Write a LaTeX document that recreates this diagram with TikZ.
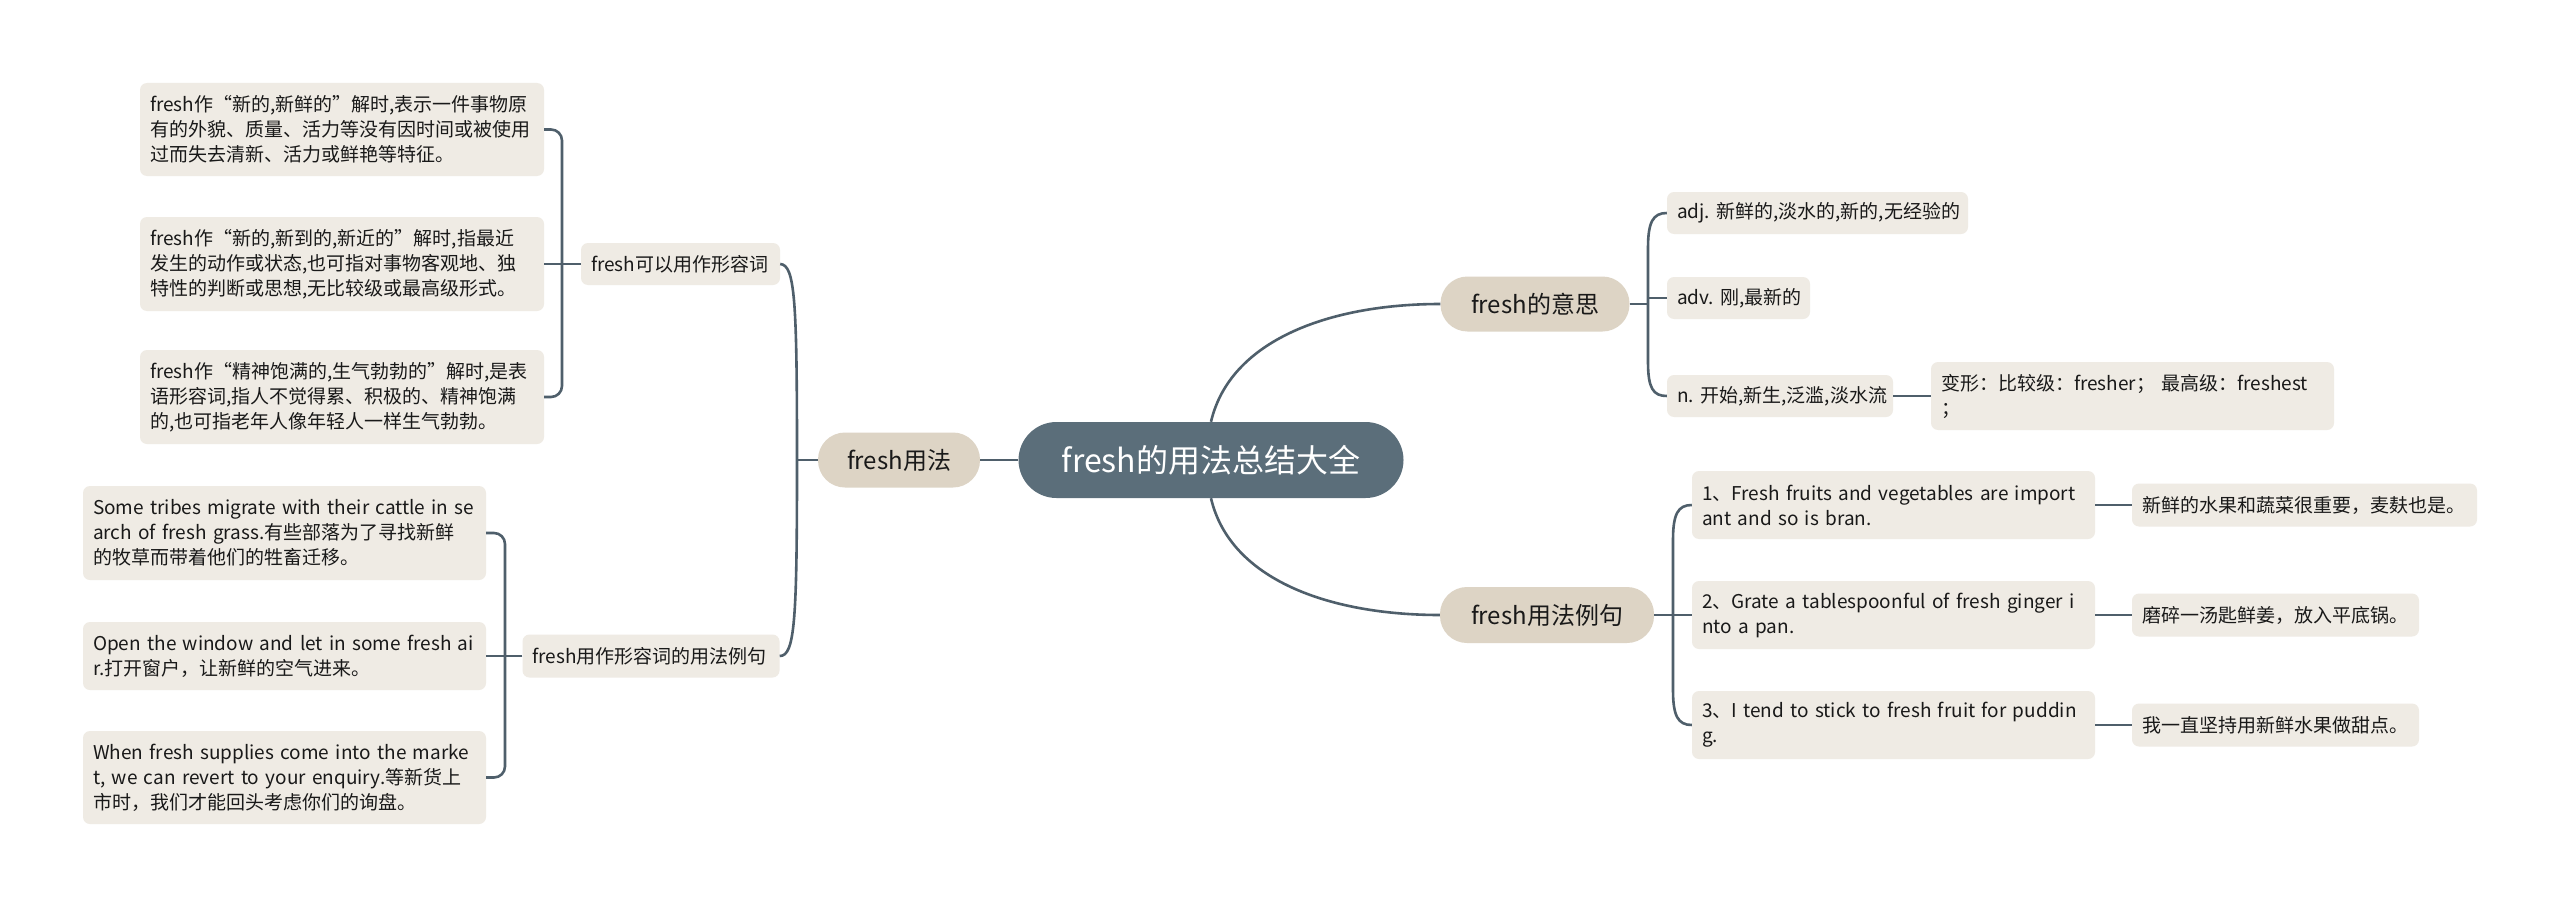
\documentclass[tikz,border=0pt]{standalone}
\usepackage{fontspec}
\setmainfont{Noto Sans CJK SC}
\frenchspacing
\definecolor{rootfill}{RGB}{91,110,122}
\definecolor{branchfill}{RGB}{221,212,197}
\definecolor{leaffill}{RGB}{239,235,228}
\definecolor{linec}{RGB}{79,95,107}
\definecolor{textc}{RGB}{25,25,25}
\tikzset{
  conn/.style={draw=linec, line width=2.6pt},
  leafbox/.style={fill=leaffill, rounded corners=7pt, inner xsep=10pt, inner ysep=0pt, align=left, text=textc, font=\fontsize{19}{25}\selectfont},
  branchbox/.style={fill=branchfill, rounded corners=27pt, inner sep=0pt, text=textc, font=\fontsize{24}{28}\selectfont},
  rootbox/.style={fill=rootfill, rounded corners=38pt, inner sep=0pt, text=white, font=\fontsize{32}{36}\selectfont}
}
\begin{document}
\begin{tikzpicture}[x=1pt,y=-1pt]
\useasboundingbox (0,0) rectangle (2560,907);
\fill[white] (0,0) rectangle (2560,907);

% root and branches
\node[rootbox, minimum width=385pt, minimum height=76pt] (C) at (1211,460) {fresh的用法总结大全};
\node[branchbox, minimum width=162pt, minimum height=55pt] (B1) at (899,460) {fresh用法};
\node[branchbox, minimum width=189pt, minimum height=55pt] (B2) at (1535,304) {fresh的意思};
\node[branchbox, minimum width=214pt, minimum height=56pt] (B3) at (1547,615) {fresh用法例句};

% left sub-branches
\node[leafbox, text width=179pt, minimum height=42pt] (A1) at (680.5,264) {\mbox{fresh可以用作形容词}};
\node[leafbox, text width=237pt, minimum height=43pt] (A2) at (651,656) {\mbox{fresh用作形容词的用法例句}};

% left leaves group 1
\node[leafbox, text width=384pt, minimum height=93pt] (L1) at (342,129.5) {fresh作“新的,新鲜的”解时,表示一件事物原\\有的外貌、质量、活力等没有因时间或被使用\\过而失去清新、活力或鲜艳等特征。};
\node[leafbox, text width=384pt, minimum height=94pt] (L2) at (342,264) {fresh作“新的,新到的,新近的”解时,指最近\\发生的动作或状态,也可指对事物客观地、独\\特性的判断或思想,无比较级或最高级形式。};
\node[leafbox, text width=384pt, minimum height=94pt] (L3) at (342,397) {fresh作“精神饱满的,生气勃勃的”解时,是表\\语形容词,指人不觉得累、积极的、精神饱满\\的,也可指老年人像年轻人一样生气勃勃。};

% left leaves group 2
\node[leafbox, text width=383pt, minimum height=94pt] (E1) at (284.5,533) {\mbox{Some tribes migrate with their cattle in se}\\\mbox{arch of fresh grass.有些部落为了寻找新鲜}\\的牧草而带着他们的牲畜迁移。};
\node[leafbox, text width=383pt, minimum height=68pt] (E2) at (284.5,656) {\mbox{Open the window and let in some fresh ai}\\r.打开窗户，让新鲜的空气进来。};
\node[leafbox, text width=383pt, minimum height=93pt] (E3) at (284.5,777.5) {\mbox{When fresh supplies come into the marke}\\\mbox{t, we can revert to your enquiry.等新货上}\\市时，我们才能回头考虑你们的询盘。};

% right meanings
\node[leafbox, text width=281pt, minimum height=42pt] (D1) at (1817.5,213) {\mbox{adj. 新鲜的,淡水的,新的,无经验的}};
\node[leafbox, text width=123pt, minimum height=42pt] (D2) at (1738.5,298) {\mbox{adv. 刚,最新的}};
\node[leafbox, text width=206pt, minimum height=42pt] (D3) at (1780,396) {\mbox{n. 开始,新生,泛滥,淡水流}};
\node[leafbox, text width=383pt, minimum height=68pt] (V) at (2132.5,396) {\mbox{变形：比较级：fresher； 最高级：freshest}\\；};

% right examples
\node[leafbox, text width=383pt, minimum height=68pt] (R1) at (1893.5,505) {\mbox{1、Fresh fruits and vegetables are import}\\ant and so is bran.};
\node[leafbox, text width=383pt, minimum height=68pt] (R2) at (1893.5,615) {\mbox{2、Grate a tablespoonful of fresh ginger i}\\nto a pan.};
\node[leafbox, text width=383pt, minimum height=68pt] (R3) at (1893.5,725) {\mbox{3、I tend to stick to fresh fruit for puddin}\\g.};
\node[leafbox, text width=325pt, minimum height=43pt] (T1) at (2304.5,505) {\mbox{新鲜的水果和蔬菜很重要，麦麸也是。}};
\node[leafbox, text width=267pt, minimum height=43pt] (T2) at (2275.5,615) {\mbox{磨碎一汤匙鲜姜，放入平底锅。}};
\node[leafbox, text width=267pt, minimum height=43pt] (T3) at (2275.5,725) {\mbox{我一直坚持用新鲜水果做甜点。}};

% junction coordinates
\coordinate (J0) at (797,460);
\coordinate (J3) at (562,264);
\coordinate (J4) at (505,656);
\coordinate (J1) at (1648,304);
\coordinate (J1b) at (1648,298);

% root connectors
\draw[conn] (C.west) -- (B1.east);
\draw[conn] (C.north) .. controls (1230,340) and (1330,304) .. (B2.west);
\draw[conn] (C.south) .. controls (1230,580) and (1330,615) .. (B3.west);

% fresh用法 bracket
\draw[conn] (B1.west) -- (J0);
\draw[conn] (A1.east) .. controls (795,265) and (797,300) .. (J0) .. controls (797,620) and (795,656) .. (A2.east);

% group 1 left
\draw[conn] (A1.west) -- (L2.east);
\draw[conn, rounded corners=11pt] (L1.east) -| (J3);
\draw[conn, rounded corners=11pt] (L3.east) -| (J3);

% group 2 left
\draw[conn] (A2.west) -- (E2.east);
\draw[conn, rounded corners=11pt] (E1.east) -| (J4);
\draw[conn, rounded corners=11pt] (E3.east) -| (J4);

% meanings bracket
\draw[conn] (B2.east) -- (J1);
\draw[conn] (J1b) -- (D2.west);
\draw[conn] (D1.west) .. controls (1653,213) and (1648,222) .. (1648,248) -- (1648,362) .. controls (1648,388) and (1653,396) .. (D3.west);
\draw[conn] (D3.east) -- (V.west);

% examples bracket
\draw[conn] (B3.east) -- (R2.west);
\draw[conn] (R1.west) .. controls (1678,505) and (1673,514) .. (1673,540) -- (1673,690) .. controls (1673,716) and (1678,725) .. (R3.west);
\draw[conn] (R1.east) -- (T1.west);
\draw[conn] (R2.east) -- (T2.west);
\draw[conn] (R3.east) -- (T3.west);
\end{tikzpicture}
\end{document}
